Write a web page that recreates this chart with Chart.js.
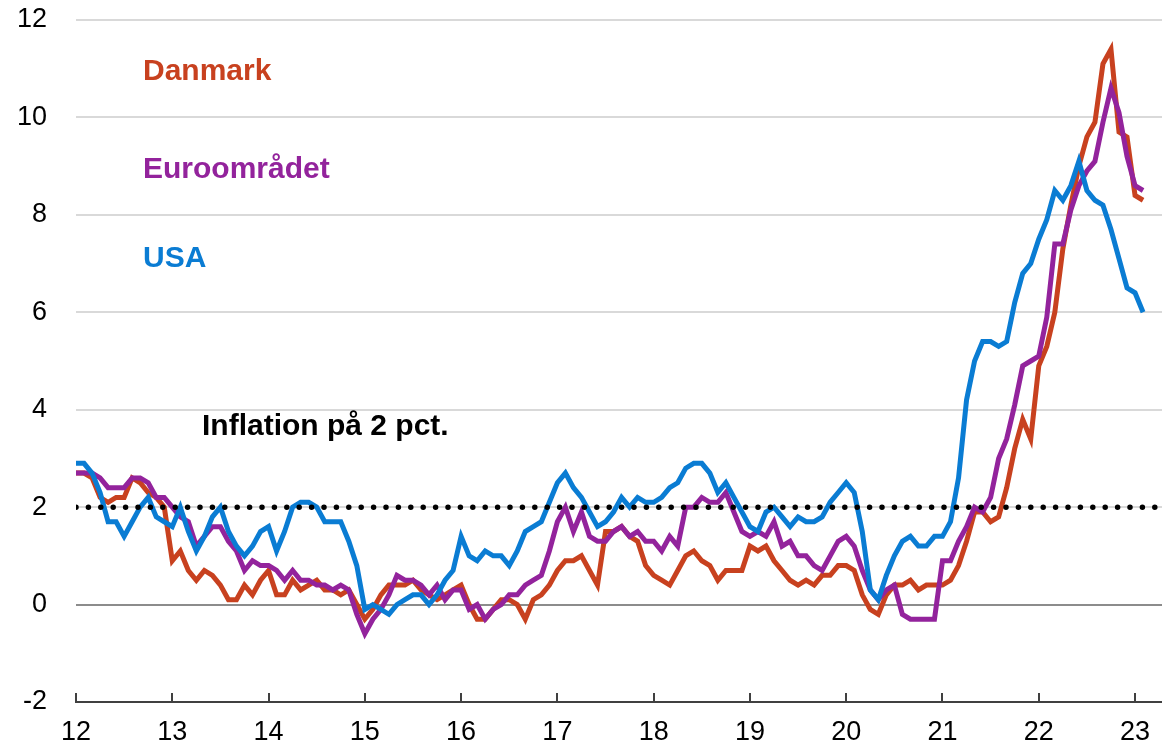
<!DOCTYPE html>
<html>
<head>
<meta charset="utf-8">
<script src="https://cdn.jsdelivr.net/npm/chart.js@4.4.0/dist/chart.umd.min.js"></script>
<style>
    html, body { margin: 0; padding: 0; background: #ffffff; }
    #wrap { width: 1162px; height: 743px; }
</style>
</head>
<body>
<div id="wrap"><canvas id="inflationChart" width="1162" height="743"></canvas></div>
<script>
// x axis: years (2-digit), monthly data from Jan 2012 to Feb 2023
const years = [12, 13, 14, 15, 16, 17, 18, 19, 20, 21, 22, 23];
const yTicks = [-2, 0, 2, 4, 6, 8, 10, 12];

const seriesNames = ['Danmark', 'Euroområdet', 'USA'];
const targetLabel = 'Inflation på 2 pct.';
const target = 2;

// yearly inflation, pct. (monthly observations)
const danmark = [
    2.7, 2.7, 2.6, 2.2, 2.1, 2.2, 2.2, 2.6, 2.5, 2.3, 2.2, 2.0,
    0.9, 1.1, 0.7, 0.5, 0.7, 0.6, 0.4, 0.1, 0.1, 0.4, 0.2, 0.5,
    0.7, 0.2, 0.2, 0.5, 0.3, 0.4, 0.5, 0.3, 0.3, 0.2, 0.3, 0.0,
    -0.3, -0.1, 0.2, 0.4, 0.4, 0.4, 0.5, 0.3, 0.2, 0.1, 0.2, 0.3,
    0.4, 0.0, -0.3, -0.3, -0.1, 0.1, 0.1, 0.0, -0.3, 0.1, 0.2, 0.4,
    0.7, 0.9, 0.9, 1.0, 0.7, 0.4, 1.5, 1.5, 1.6, 1.4, 1.3, 0.8,
    0.6, 0.5, 0.4, 0.7, 1.0, 1.1, 0.9, 0.8, 0.5, 0.7, 0.7, 0.7,
    1.2, 1.1, 1.2, 0.9, 0.7, 0.5, 0.4, 0.5, 0.4, 0.6, 0.6, 0.8,
    0.8, 0.7, 0.2, -0.1, -0.2, 0.2, 0.4, 0.4, 0.5, 0.3, 0.4, 0.4,
    0.4, 0.5, 0.8, 1.3, 1.9, 1.9, 1.7, 1.8, 2.4, 3.2, 3.8, 3.4,
    4.9, 5.3, 6.0, 7.3, 8.2, 9.0, 9.6, 9.9, 11.1, 11.4, 9.7, 9.6,
    8.4, 8.3
];
const euroomraadet = [
    2.7, 2.7, 2.7, 2.6, 2.4, 2.4, 2.4, 2.6, 2.6, 2.5, 2.2, 2.2,
    2.0, 1.8, 1.7, 1.2, 1.4, 1.6, 1.6, 1.3, 1.1, 0.7, 0.9, 0.8,
    0.8, 0.7, 0.5, 0.7, 0.5, 0.5, 0.4, 0.4, 0.3, 0.4, 0.3, -0.2,
    -0.6, -0.3, -0.1, 0.2, 0.6, 0.5, 0.5, 0.4, 0.2, 0.4, 0.1, 0.3,
    0.3, -0.1, 0.0, -0.3, -0.1, 0.0, 0.2, 0.2, 0.4, 0.5, 0.6, 1.1,
    1.7, 2.0, 1.5, 1.9, 1.4, 1.3, 1.3, 1.5, 1.6, 1.4, 1.5, 1.3,
    1.3, 1.1, 1.4, 1.2, 2.0, 2.0, 2.2, 2.1, 2.1, 2.3, 1.9, 1.5,
    1.4, 1.5, 1.4, 1.7, 1.2, 1.3, 1.0, 1.0, 0.8, 0.7, 1.0, 1.3,
    1.4, 1.2, 0.7, 0.3, 0.1, 0.3, 0.4, -0.2, -0.3, -0.3, -0.3, -0.3,
    0.9, 0.9, 1.3, 1.6, 2.0, 1.9, 2.2, 3.0, 3.4, 4.1, 4.9, 5.0,
    5.1, 5.9, 7.4, 7.4, 8.1, 8.6, 8.9, 9.1, 9.9, 10.6, 10.1, 9.2,
    8.6, 8.5
];
const usa = [
    2.9, 2.9, 2.7, 2.3, 1.7, 1.7, 1.4, 1.7, 2.0, 2.2, 1.8, 1.7,
    1.6, 2.0, 1.5, 1.1, 1.4, 1.8, 2.0, 1.5, 1.2, 1.0, 1.2, 1.5,
    1.6, 1.1, 1.5, 2.0, 2.1, 2.1, 2.0, 1.7, 1.7, 1.7, 1.3, 0.8,
    -0.1, 0.0, -0.1, -0.2, 0.0, 0.1, 0.2, 0.2, 0.0, 0.2, 0.5, 0.7,
    1.4, 1.0, 0.9, 1.1, 1.0, 1.0, 0.8, 1.1, 1.5, 1.6, 1.7, 2.1,
    2.5, 2.7, 2.4, 2.2, 1.9, 1.6, 1.7, 1.9, 2.2, 2.0, 2.2, 2.1,
    2.1, 2.2, 2.4, 2.5, 2.8, 2.9, 2.9, 2.7, 2.3, 2.5, 2.2, 1.9,
    1.6, 1.5, 1.9, 2.0, 1.8, 1.6, 1.8, 1.7, 1.7, 1.8, 2.1, 2.3,
    2.5, 2.3, 1.5, 0.3, 0.1, 0.6, 1.0, 1.3, 1.4, 1.2, 1.2, 1.4,
    1.4, 1.7, 2.6, 4.2, 5.0, 5.4, 5.4, 5.3, 5.4, 6.2, 6.8, 7.0,
    7.5, 7.9, 8.5, 8.3, 8.6, 9.1, 8.5, 8.3, 8.2, 7.7, 7.1, 6.5,
    6.4, 6.0
];

const COLORS = {
    danmark: '#C8411F',
    euro: '#93239C',
    usa: '#0A7CD3'
};
const FONT = "'Liberation Sans', Arial, sans-serif";
const X_MAX = 23.28;

// monthly points: x = year + month/12
function toPoints(values) {
    return values.map((v, i) => ({ x: years[0] + i / 12, y: v }));
}

// inward tick marks on the x axis + series labels
const decorPlugin = {
    id: 'decor',
    afterDraw(chart) {
        const ctx = chart.ctx;
        const xs = chart.scales.x;
        const bottom = chart.chartArea.bottom;
        ctx.save();
        ctx.strokeStyle = '#404040';
        ctx.lineWidth = 2;
        xs.ticks.forEach(t => {
            const px = Math.round(xs.getPixelForValue(t.value));
            ctx.beginPath();
            ctx.moveTo(px, bottom);
            ctx.lineTo(px, bottom - 9);
            ctx.stroke();
        });

        ctx.font = 'bold 30px ' + FONT;
        ctx.textBaseline = 'alphabetic';
        ctx.textAlign = 'left';
        ctx.fillStyle = COLORS.danmark;
        ctx.fillText(seriesNames[0], 143, 80);
        ctx.fillStyle = COLORS.euro;
        ctx.fillText(seriesNames[1], 143, 178);
        ctx.fillStyle = COLORS.usa;
        ctx.fillText(seriesNames[2], 143, 267);
        ctx.fillStyle = '#000000';
        ctx.fillText(targetLabel, 202, 435);
        ctx.restore();
    }
};

function lineSet(label, values, color, order) {
    return {
        label: label,
        data: toPoints(values),
        borderColor: color,
        borderWidth: 5,
        pointRadius: 0,
        tension: 0,
        fill: false,
        order: order
    };
}

document.addEventListener('DOMContentLoaded', () => {
    Chart.defaults.font.family = FONT;
    Chart.defaults.color = '#000000';

    const ctx = document.getElementById('inflationChart').getContext('2d');
    new Chart(ctx, {
        type: 'line',
        data: {
            datasets: [
                {
                    label: targetLabel,
                    data: [{ x: years[0], y: target }, { x: X_MAX, y: target }],
                    borderColor: '#000000',
                    borderWidth: 5.5,
                    borderDash: [0, 12.4],
                    borderCapStyle: 'round',
                    pointRadius: 0,
                    order: 0
                },
                lineSet(seriesNames[2], usa, COLORS.usa, 1),
                lineSet(seriesNames[1], euroomraadet, COLORS.euro, 2),
                lineSet(seriesNames[0], danmark, COLORS.danmark, 3)
            ]
        },
        options: {
            responsive: false,
            animation: false,
            layout: { padding: { top: 20, right: 0, left: 0, bottom: 0 } },
            plugins: {
                legend: { display: false },
                tooltip: { enabled: false }
            },
            scales: {
                x: {
                    type: 'linear',
                    min: years[0],
                    max: X_MAX,
                    grid: { display: false, drawTicks: false },
                    border: { display: true, color: '#404040', width: 2 },
                    ticks: {
                        font: { size: 27 },
                        color: '#000000',
                        padding: 14,
                        maxRotation: 0,
                        autoSkip: false
                    },
                    afterBuildTicks: s => { s.ticks = years.map(v => ({ value: v })); },
                    afterFit: s => { s.height = 41; s.paddingLeft = 0; s.paddingRight = 0; }
                },
                y: {
                    min: yTicks[0],
                    max: yTicks[yTicks.length - 1],
                    grid: {
                        drawTicks: false,
                        lineWidth: 2,
                        color: c => c.tick.value === 0 ? '#8c8c8c'
                            : (c.tick.value === yTicks[0] ? 'rgba(0,0,0,0)' : '#d9d9d9')
                    },
                    border: { display: false },
                    ticks: {
                        font: { size: 27 },
                        color: '#000000',
                        padding: 29
                    },
                    afterBuildTicks: s => { s.ticks = yTicks.map(v => ({ value: v })); },
                    afterFit: s => { s.width = 76; s.paddingTop = 0; s.paddingBottom = 0; }
                }
            }
        },
        plugins: [decorPlugin]
    });
});
</script>
</body>
</html>
